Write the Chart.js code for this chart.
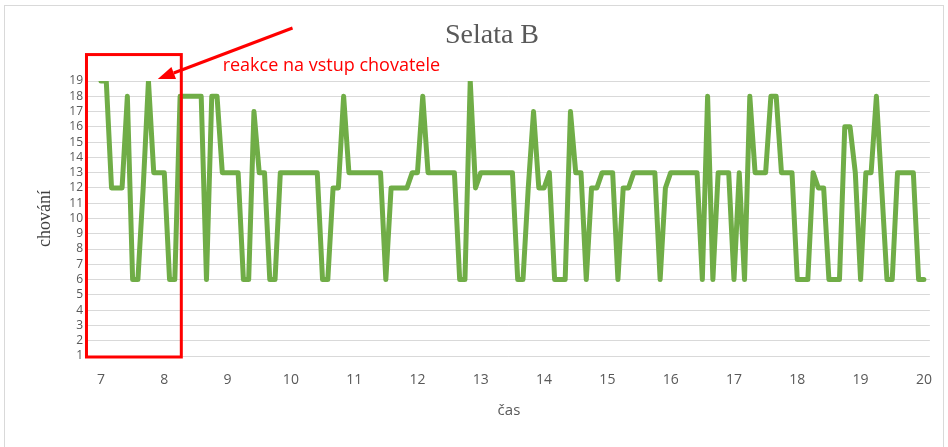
<!DOCTYPE html>
<html>
<head>
<meta charset="utf-8">
<title>Selata B</title>
<script src="https://cdn.jsdelivr.net/npm/chart.js@4"></script>
<style>
  html, body { margin: 0; background: #fff; }
  #wrap { position: relative; width: 948px; height: 447px; overflow: hidden; }
  #frame { position: absolute; left: 4px; top: 5px; width: 938px; height: 470px; border: 1px solid #d9d9d9; }
  #chart { position: absolute; left: 0; top: 0; }
</style>
</head>
<body>
<div id="wrap">
  <div id="frame"></div>
  <canvas id="chart" width="948" height="447"></canvas>
</div>
<script>
/* ── Data ─────────────────────────────────────────────────────────── */

// one reading every 5 minutes, from 7:00 to 20:00
const startHour   = 7;
const stepMinutes = 5;

// chování (behaviour code), one row per hour
const behaviour = [
  19, 19, 12, 12, 12, 18,  6,  6, 12, 19, 13, 13,   // 7
  13,  6,  6, 18, 18, 18, 18, 18,  6, 18, 18, 13,   // 8
  13, 13, 13,  6,  6, 17, 13, 13,  6,  6, 13, 13,   // 9
  13, 13, 13, 13, 13, 13,  6,  6, 12, 12, 18, 13,   // 10
  13, 13, 13, 13, 13, 13,  6, 12, 12, 12, 12, 13,   // 11
  13, 18, 13, 13, 13, 13, 13, 13,  6,  6, 19, 12,   // 12
  13, 13, 13, 13, 13, 13, 13,  6,  6, 12, 17, 12,   // 13
  12, 13,  6,  6,  6, 17, 13, 13,  6, 12, 12, 13,   // 14
  13, 13,  6, 12, 12, 13, 13, 13, 13, 13,  6, 12,   // 15
  13, 13, 13, 13, 13, 13,  6, 18,  6, 13, 13, 13,   // 16
   6, 13,  6, 18, 13, 13, 13, 18, 18, 13, 13, 13,   // 17
   6,  6,  6, 13, 12, 12,  6,  6,  6, 16, 16, 13,   // 18
   6, 13, 13, 18, 12,  6,  6, 13, 13, 13, 13,  6,   // 19
   6                                                // 20
];

const hourTicks = [7, 8, 9, 10, 11, 12, 13, 14, 15, 16, 17, 18, 19, 20];

const chartTitle = 'Selata B';
const xTitle     = 'čas';
const yTitle     = 'chování';
const noteText   = 'reakce na vstup chovatele';

/* ── Styles ───────────────────────────────────────────────────────── */

const SANS  = "'Open Sans', 'DejaVu Sans', sans-serif";
const SERIF = "'Liberation Serif', 'DejaVu Serif', serif";
const GREY  = '#595959';
const RED   = '#ff0000';

// ── Red callout (box, arrow, note) + title ─────────────────────────

const callout = {
  id: 'callout',
  afterDraw(chart) {
    const { ctx, scales: { x, y } } = chart;
    ctx.save();

    // title
    ctx.fillStyle = GREY;
    ctx.font = `28px ${SERIF}`;
    ctx.textAlign = 'center';
    ctx.textBaseline = 'alphabetic';
    ctx.fillText(chartTitle, 492, 43);

    // box round the first hour
    const bx0 = x.getPixelForValue(6.771), bx1 = x.getPixelForValue(8.269);
    const by0 = y.getPixelForValue(20.73), by1 = y.getPixelForValue(0.935);
    ctx.strokeStyle = RED;
    ctx.lineWidth = 3;
    ctx.lineJoin = 'miter';
    ctx.strokeRect(bx0, by0, bx1 - bx0, by1 - by0);

    // arrow
    const ax0 = x.getPixelForValue(10.026), ay0 = y.getPixelForValue(22.47);
    const ax1 = x.getPixelForValue(7.898),  ay1 = y.getPixelForValue(19.13);
    const ang = Math.atan2(ay1 - ay0, ax1 - ax0);
    const head = 17, half = 6.5;
    const hx = ax1 - head * Math.cos(ang), hy = ay1 - head * Math.sin(ang);
    ctx.beginPath();
    ctx.moveTo(ax0, ay0);
    ctx.lineTo(hx, hy);
    ctx.lineWidth = 3;
    ctx.stroke();
    ctx.beginPath();
    ctx.moveTo(ax1, ay1);
    ctx.lineTo(hx + half * Math.sin(ang), hy - half * Math.cos(ang));
    ctx.lineTo(hx - half * Math.sin(ang), hy + half * Math.cos(ang));
    ctx.closePath();
    ctx.fillStyle = RED;
    ctx.fill();

    // note
    ctx.font = `18px ${SANS}`;
    ctx.textAlign = 'left';
    ctx.fillText(noteText, x.getPixelForValue(8.922), y.getPixelForValue(19.65));

    ctx.restore();
  },
};

// ── Chart ───────────────────────────────────────────────────────────

const points = behaviour.map((v, i) => ({ x: startHour + i * stepMinutes / 60, y: v }));

new Chart(document.getElementById('chart'), {
  type: 'line',
  data: {
    datasets: [{
      data: points,
      borderColor: '#70ad47',
      borderWidth: 5,
      borderJoinStyle: 'round',
      borderCapStyle: 'round',
      pointRadius: 0,
      tension: 0,
      fill: false,
    }],
  },
  options: {
    responsive: false,
    animation: false,
    layout: { padding: { top: 81, right: 16, left: 30, bottom: 18 } },
    plugins: { legend: { display: false }, tooltip: { enabled: false } },
    scales: {
      x: {
        type: 'linear',
        min: 6.795,
        max: 20.095,
        grid: { display: false, drawTicks: false },
        border: { display: false },
        afterBuildTicks: s => { s.ticks = hourTicks.map(v => ({ value: v })); },
        ticks: {
          color: GREY, font: { size: 14, family: SANS }, padding: 16,
          autoSkip: false, maxRotation: 0, callback: v => String(v),
        },
        title: { display: true, text: xTitle, color: GREY, font: { size: 15, family: SANS }, padding: { top: 0, bottom: 9 } },
        afterFit: s => { s.height = 73; },
      },
      y: {
        type: 'linear',
        min: 1,
        max: 19,
        grid: { color: '#d9d9d9', drawTicks: false },
        border: { display: false },
        ticks: { stepSize: 1, autoSkip: false, color: GREY, font: { size: 12, family: SANS }, padding: 5 },
        title: { display: true, text: yTitle, color: '#404040', font: { size: 18, family: SERIF }, padding: { top: 4, bottom: 0 } },
        afterFit: s => { s.width = 58; },
      },
    },
  },
  plugins: [callout],
});
</script>
</body>
</html>
